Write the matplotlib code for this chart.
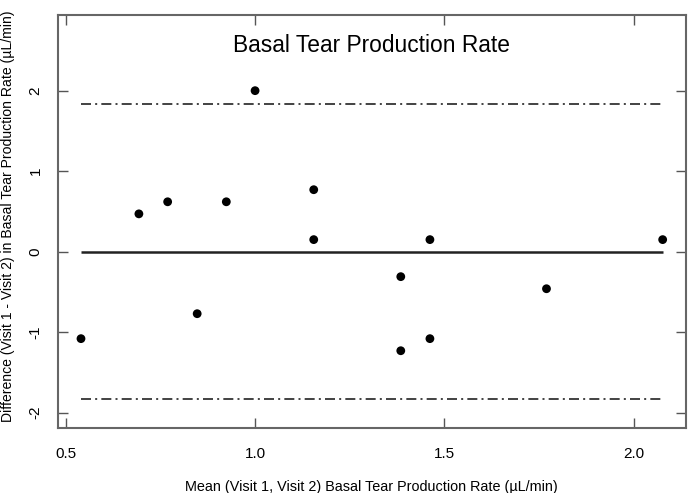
import numpy as np
import matplotlib
matplotlib.use("Agg")
import matplotlib.pyplot as plt

plt.rcParams['font.family'] = ['Liberation Sans', 'DejaVu Sans']

# mean of the two visits and their difference
mean_vals = [0.54, 0.693, 0.769, 0.847, 0.924, 1.0, 1.155, 1.155, 1.385, 1.385, 1.462, 1.462, 1.77, 2.077]
diff_vals = [-1.08, 0.47, 0.62, -0.77, 0.62, 2.0, 0.77, 0.15, -0.31, -1.23, 0.15, -1.08, -0.46, 0.15]
mean_diff = 0.0
loa_upper = 1.83
loa_lower = -1.83
x_ticks = [0.5, 1.0, 1.5, 2.0]
x_ticklabels = ["0.5", "1.0", "1.5", "2.0"]
y_ticks = [-2, -1, 0, 1, 2]
y_ticklabels = ["-2", "-1", "0", "1", "2"]

fig = plt.figure(figsize=(6.88, 4.93), dpi=100)
ax = fig.add_axes([0.0839, 0.1318, 0.9131, 0.8378])

x = np.array(mean_vals)
y = np.array(diff_vals)
xmin, xmax = x.min(), x.max()

ax.plot([xmin, xmax], [mean_diff, mean_diff], color="#222222", lw=1.8, solid_capstyle="butt")
ax.plot([xmin, xmax], [loa_upper, loa_upper], color="#222222", lw=1.2, ls=(0, (6, 2.5, 1.2, 2.5)))
ax.plot([xmin, xmax], [loa_lower, loa_lower], color="#222222", lw=1.2, ls=(0, (6, 2.5, 1.2, 2.5)))
ax.scatter(x, y, s=40, color="black", zorder=3, edgecolors="none")

span = xmax - xmin
ax.set_xlim(xmin - 0.04 * span, xmax + 0.04 * span)
ax.set_ylim(-2 - 0.04 * 4.75, 2.75 + 0.04 * 4.75)

ax.set_xticks(x_ticks)
ax.set_xticklabels(x_ticklabels)
ax.set_yticks(y_ticks)
ax.set_yticklabels(y_ticklabels, rotation=90, va="center")
ax.tick_params(direction="in", length=7, width=1, color="#555555", labelsize=11,
               top=True, right=True, labeltop=False, labelright=False)
ax.tick_params(axis="x", pad=14)
ax.tick_params(axis="y", pad=11)
for s in ax.spines.values():
    s.set_color("#666666")
    s.set_linewidth(1.5)

ax.text(0.5, 0.927, "Basal Tear Production Rate", transform=ax.transAxes,
        ha="center", va="center", fontsize=16.4)
ax.set_xlabel("Mean (Visit 1, Visit 2) Basal Tear Production Rate (\u00b5L/min)", fontsize=10.4)
ax.set_ylabel("Difference (Visit 1 - Visit 2) in Basal Tear Production Rate (\u00b5L/min)", fontsize=10.1)
ax.xaxis.set_label_coords(0.5, -0.127)
ax.yaxis.set_label_coords(-0.068, 0.512)

fig.savefig("out.png", dpi=100)
